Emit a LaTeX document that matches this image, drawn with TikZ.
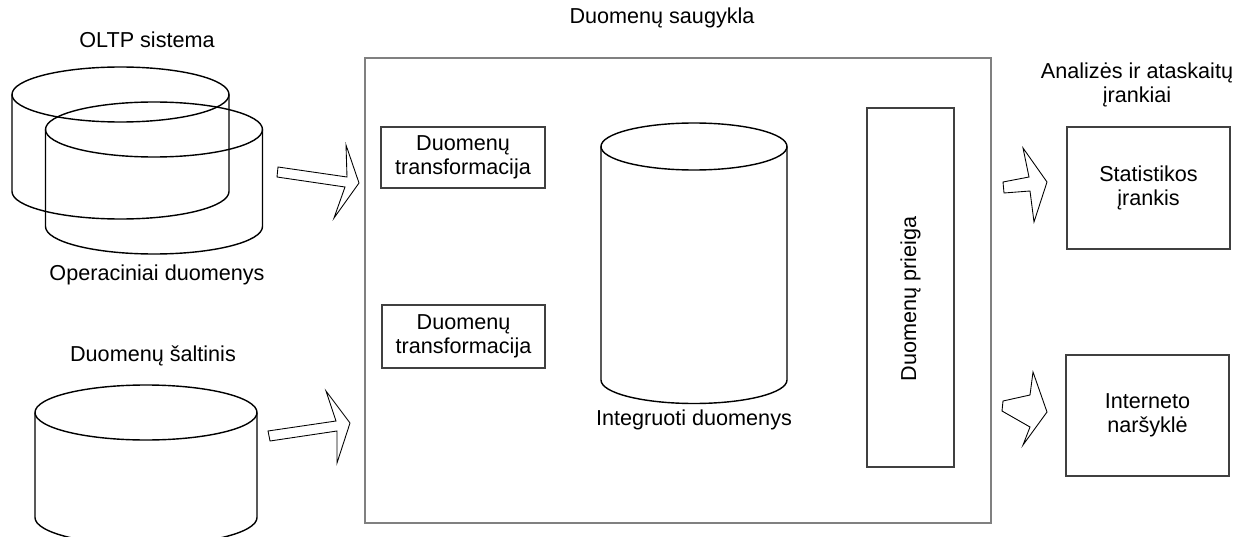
\documentclass[tikz,border=0pt]{standalone}
\usepackage{fontspec}
\setmainfont{Liberation Sans}
\usepackage{tikz}
\usetikzlibrary{positioning}

% cylinder: centre x, centre y of the top ellipse, x radius, y radius, side height
\newcommand{\dbcyl}[5]{%
\draw[cyl] (#1,#2) ellipse [x radius=#3, y radius=#4];
\draw[cyl] (#1-#3,#2) -- ++(0,#5) arc[start angle=180, end angle=0, x radius=#3, y radius=#4] -- ++(0,-#5);
}

\begin{document}
\begin{tikzpicture}[x=0.02cm, y=-0.02cm, font=\fontsize{12.3}{13.8}\selectfont]
\tikzstyle{cyl} = [line width=0.8pt]
\tikzstyle{box} = [draw=black!75, line width=0.7pt, align=center, inner sep=0pt]
\tikzstyle{blk} = [line width=0.5pt, line join=miter]

\clip (0,0) rectangle (1251,537);

% warehouse frame
\node[box, draw=black!50, line width=1.3pt, minimum width=12.52cm, minimum height=9.3cm] (dw) at (678,290.5) {};
\node (title) at (662,18) {Duomenų saugykla};

% sources
\foreach \cx/\cy in {120.5/94.5, 154/129.5} {
\dbcyl{\cx}{\cy}{108.5}{27.5}{97}
}
\node (oltp) at (147,40) {OLTP sistema};
\node (oper) at (157,275) {Operaciniai duomenys};

\dbcyl{146}{412.5}{111}{27.5}{105}
\node (src) at (153,356) {Duomenų šaltinis};

% inside the warehouse
\node[box, minimum width=3.28cm, minimum height=1.22cm] (tr1) at (463,157.5) {Duomenų\\transformacija};
\node[box, minimum width=3.26cm, minimum height=1.26cm] (tr2) at (463.5,336.5) {Duomenų\\transformacija};

\dbcyl{694}{146.5}{93}{23.5}{233.5}
\node (integ) at (694,420) {Integruoti duomenys};

\node[box, minimum width=1.74cm, minimum height=7.18cm] (acc) at (910.5,287.5) {};
\node[rotate=90] (acctxt) at (910.5,299) {Duomenų prieiga};

% tools
\node[align=center] (tools) at (1137,85) {Analizės ir ataskaitų\\įrankiai};
\node[box, minimum width=3.26cm, minimum height=2.44cm] (stat) at (1148.5,188) {Statistikos\\įrankis};
\node[box, minimum width=3.26cm, minimum height=2.42cm] (web) at (1147.5,415.5) {Interneto\\naršyklė};

% block arrows
\draw[blk] (278,167) -- (347,177) -- (346,145) -- (359,183) -- (334,218) -- (345,187) -- (277,177) -- cycle;
\draw[blk] (268,431) -- (336,421) -- (326,391) -- (350,423) -- (337,463) -- (337,431) -- (270,441) -- cycle;
\draw[blk] (1003,182) -- (1029,177) -- (1023,148) -- (1047,182) -- (1034,222) -- (1030,191) -- (1004,193) -- cycle;
\draw[blk] (1003,401) -- (1030,395) -- (1033,372) -- (1047,412) -- (1023,445) -- (1030,427) -- (1002,411) -- cycle;

\end{tikzpicture}
\end{document}
